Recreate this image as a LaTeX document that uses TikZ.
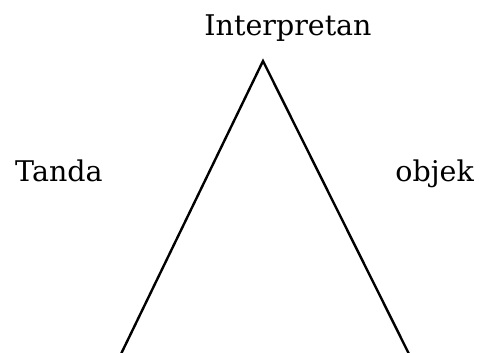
\documentclass[tikz,border=0pt]{standalone}
\usepackage{fontspec}
\setmainfont{DejaVu Serif}
\begin{document}
\begin{tikzpicture}[x=1pt,y=1pt,
  lbl/.style={inner sep=0pt,font=\fontsize{28.5}{34}\selectfont},
  side/.style={line width=2.4pt,line cap=butt}]
\useasboundingbox (0,0) rectangle (480,353);
\node[lbl,anchor=base] (interp) at (288,317) {Interpretan};
\node[lbl,anchor=base west] (tanda) at (15,171) {Tanda};
\node[lbl,anchor=base east] (objek) at (474,171) {objek};
\coordinate (apex) at (263,292);
\coordinate (bl) at (121,-1);
\coordinate (br) at (409,-1);
\draw[side,line join=miter] (bl) -- (apex) -- (br);
\end{tikzpicture}
\end{document}
